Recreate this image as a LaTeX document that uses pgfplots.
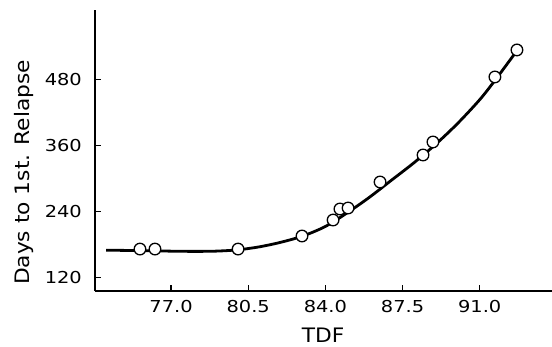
\documentclass[border=0pt]{standalone}
\usepackage{fontspec}
\setmainfont{DejaVu Sans}
\newfontfamily\tickfont{DejaVu Sans}[FakeStretch=1.18]
\newfontfamily\labfont{DejaVu Sans}[FakeStretch=1.09]
\usepackage{pgfplots}
\pgfplotsset{compat=1.18}
\newcommand\tkf{\tickfont\fontsize{16.5}{18}\selectfont}
\begin{document}
\begin{tikzpicture}
\begin{axis}[
  at={(0,0)}, anchor=south west,
  scale only axis,
  width=457bp, height=281bp,
  xmin=73.55, xmax=94.28,
  ymin=95.9, ymax=605.8,
  axis x line=bottom, axis y line=left,
  axis line style={-, line width=1.6bp},
  tick align=inside,
  major tick length=6bp,
  tick style={line width=1.4bp, black},
  xtick={77,80.5,84,87.5,91},
  xticklabels={{\tkf 77.0},{\tkf 80.5},{\tkf 84.0},{\tkf 87.5},{\tkf 91.0}},
  ytick={120,240,360,480},
  yticklabels={{\tkf 120},{\tkf 240},{\tkf 360},{\tkf 480}},
  minor tick num=0,
  xticklabel style={inner sep=0pt, anchor=north, yshift=-9bp},
  yticklabel style={inner sep=0pt, anchor=east, xshift=-13bp},
  xlabel={TDF},
  ylabel={Days to 1st. Relapse},
  xlabel style={font=\labfont\fontsize{20}{22}\selectfont, at={(axis description cs:0.499,0)}, anchor=north, inner sep=0pt, yshift=-37bp},
  ylabel style={font=\labfont\fontsize{20}{22}\selectfont, at={(axis description cs:-0.1335,0.4217)}, anchor=south, rotate=0, inner sep=0pt},
  clip=false,
]
\addplot[black, line width=2.8bp, smooth, tension=0.5, no marks] coordinates {
  (74.05,170) (75,169.5) (76,169) (77,168.2) (78,167.8) (79,168.2) (80,170.5)
  (81,176) (82,184.5) (83,196) (84,213) (85,238) (86,266) (87,297) (88,328)
  (89,362) (90,400) (91,443) (91.69,478) (92.69,532)
};
\addplot[only marks, mark=*, mark size=5.8bp, mark options={fill=white, draw=black, line width=1.3bp}] coordinates {
  (75.59,172) (76.27,172) (80.04,172) (82.94,195.7) (84.35,224.7) (84.66,244.7)
  (85.03,246.5) (86.48,293.7) (88.43,342.7) (88.88,366.3) (91.69,484.3) (92.69,533.3)
};
\end{axis}
\pgfresetboundingbox
\path[use as bounding box] (-95bp,-56bp) rectangle (457bp,291bp);
\end{tikzpicture}
\end{document}
